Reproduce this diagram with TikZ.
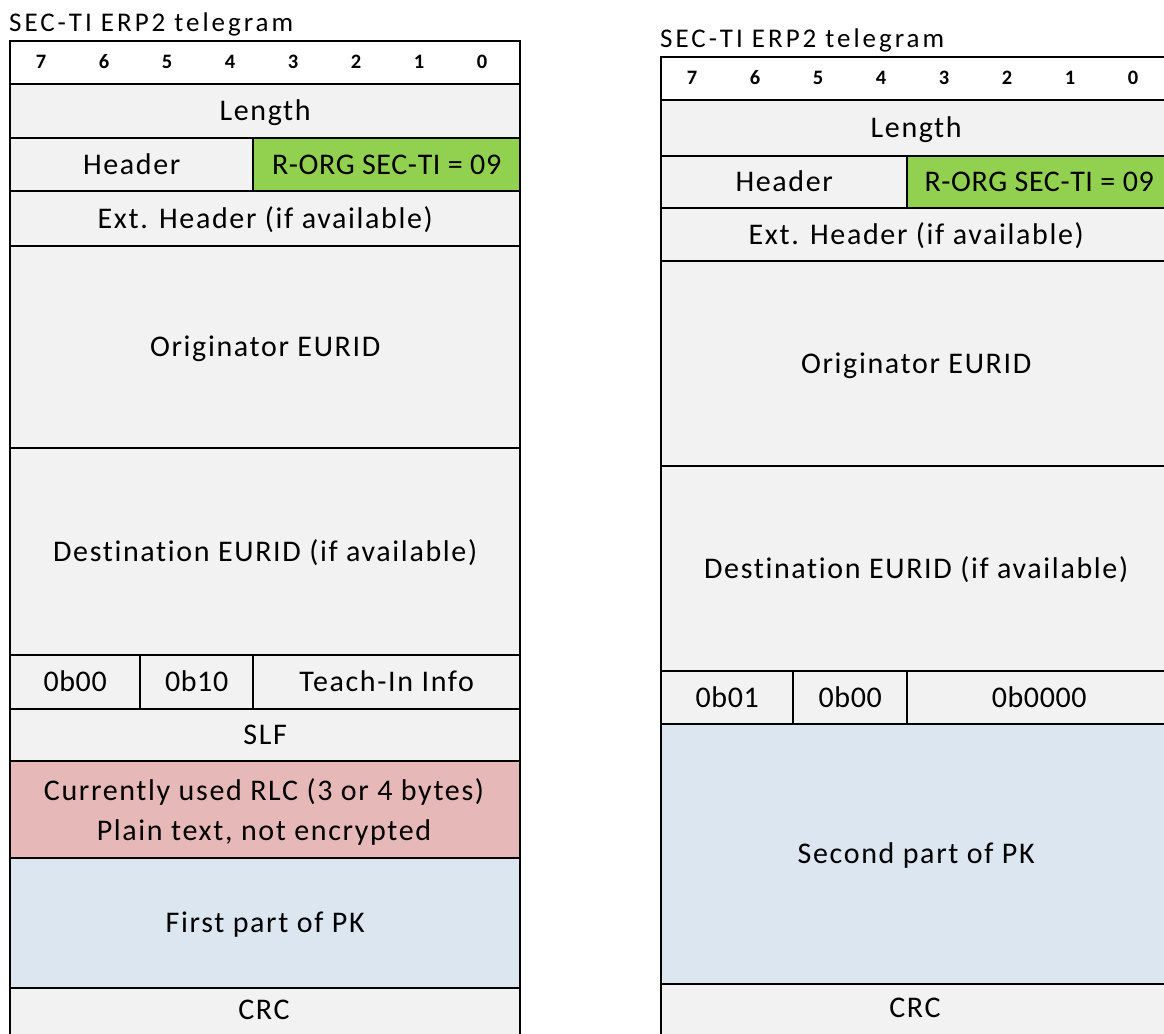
\documentclass[tikz,border=0pt]{standalone}
\usepackage{fontspec}
\setmainfont{Carlito}[Ligatures=NoCommon]
\newfontfamily\bodyfont[LetterSpace=5.5,Ligatures=NoCommon]{Carlito}
\newfontfamily\titlefont[LetterSpace=11,Ligatures=NoCommon]{Carlito}
\newfontfamily\tightfont[LetterSpace=2,Ligatures=NoCommon]{Carlito}
\definecolor{cellgray}{HTML}{F2F2F2}
\definecolor{orggreen}{HTML}{92D050}
\definecolor{rlcpink}{HTML}{E6B8B7}
\definecolor{pkblue}{HTML}{DCE6F1}
\tikzset{
  cell/.style={draw=black, line width=2.4pt, fill=cellgray, anchor=north west, inner sep=0pt,
    font=\bodyfont\fontsize{30}{36}\selectfont, text height=19pt, text depth=0pt},
  bitrow/.style={cell, fill=white},
  bitnum/.style={font=\bfseries\fontsize{20.5}{24}\selectfont, inner sep=0pt, text height=13pt, text depth=0pt},
  titletext/.style={font=\titlefont\fontsize{27}{32}\selectfont, anchor=base west, inner sep=0pt},
  tight/.style={font=\tightfont\fontsize{30}{36}\selectfont},
  label/.style={font=\bodyfont\fontsize{30}{36}\selectfont, inner sep=0pt, text height=19pt, text depth=0pt}
}
\begin{document}
\begin{tikzpicture}[x=1pt,y=-1pt]
\useasboundingbox (0,0) rectangle (1164,1033);
\fill[white] (0,0) rectangle (1164,1033);

% ---------- left telegram ----------
\node[titletext] (Ltitle) at (9,32) {SEC-TI ERP2 telegram};
\node[bitrow, minimum width=510pt, minimum height=43pt] (Lbits) at (9,40) {};
\foreach \b [count=\i from 0] in {7,6,5,4,3,2,1,0}
  \node[bitnum] (Lb\b) at (41+63*\i,62) {\b};
\node[cell, minimum width=510pt, minimum height=54pt] (Llen) at (9,83) {Length};
\node[cell, minimum width=243pt, minimum height=53pt] (Lhdr) at (9,137) {Header};
\node[cell, tight, fill=orggreen, minimum width=267pt, minimum height=53pt] (Lorg) at (252,137) {R-ORG SEC-TI = 09};
\node[cell, minimum width=510pt, minimum height=55pt] (Lext) at (9,190) {Ext. Header (if available)};
\node[cell, minimum width=510pt, minimum height=202pt] (Lori) at (9,245) {Originator EURID};
\node[cell, minimum width=510pt, minimum height=207pt] (Ldst) at (9,447) {Destination EURID (if available)};
\node[cell, tight, minimum width=130pt, minimum height=54pt] (La) at (9,654) {0b00};
\node[cell, tight, minimum width=113pt, minimum height=54pt] (Lb) at (139,654) {0b10};
\node[cell, minimum width=267pt, minimum height=54pt] (Lti) at (252,654) {Teach-In Info};
\node[cell, minimum width=510pt, minimum height=52pt] (Lslf) at (9,708) {SLF};
\node[cell, fill=rlcpink, minimum width=510pt, minimum height=97pt] (Lrlc) at (9,760) {};
\node[label] (Lrlc1) at (264,791) {Currently used RLC (3 or 4 bytes)};
\node[label] (Lrlc2) at (264,831) {Plain text, not encrypted};
\node[cell, fill=pkblue, minimum width=510pt, minimum height=130pt] (Lpk) at (9,857) {First part of PK};
\node[cell, minimum width=510pt, minimum height=60pt] (Lcrc) at (9,987) {};
\node[label] (Lcrct) at (264,1010) {CRC};

% ---------- right telegram ----------
\node[titletext] (Rtitle) at (660,48) {SEC-TI ERP2 telegram};
\node[bitrow, minimum width=510pt, minimum height=43pt] (Rbits) at (660,56) {};
\foreach \b [count=\i from 0] in {7,6,5,4,3,2,1,0}
  \node[bitnum] (Rb\b) at (692+63*\i,78) {\b};
\node[cell, minimum width=510pt, minimum height=56pt] (Rlen) at (660,99) {Length};
\node[cell, minimum width=246pt, minimum height=52pt] (Rhdr) at (660,155) {Header};
\node[cell, tight, fill=orggreen, minimum width=264pt, minimum height=52pt] (Rorg) at (906,155) {R-ORG SEC-TI = 09};
\node[cell, minimum width=510pt, minimum height=53pt] (Rext) at (660,207) {Ext. Header (if available)};
\node[cell, minimum width=510pt, minimum height=205pt] (Rori) at (660,260) {Originator EURID};
\node[cell, minimum width=510pt, minimum height=205pt] (Rdst) at (660,465) {Destination EURID (if available)};
\node[cell, tight, minimum width=132pt, minimum height=53pt] (Ra) at (660,670) {0b01};
\node[cell, tight, minimum width=114pt, minimum height=53pt] (Rb) at (792,670) {0b00};
\node[cell, tight, minimum width=264pt, minimum height=53pt] (Rti) at (906,670) {0b0000};
\node[cell, fill=pkblue, minimum width=510pt, minimum height=260pt] (Rpk) at (660,723) {Second part of PK};
\node[cell, minimum width=510pt, minimum height=60pt] (Rcrc) at (660,983) {};
\node[label] (Rcrct) at (915,1008) {CRC};
\end{tikzpicture}
\end{document}
